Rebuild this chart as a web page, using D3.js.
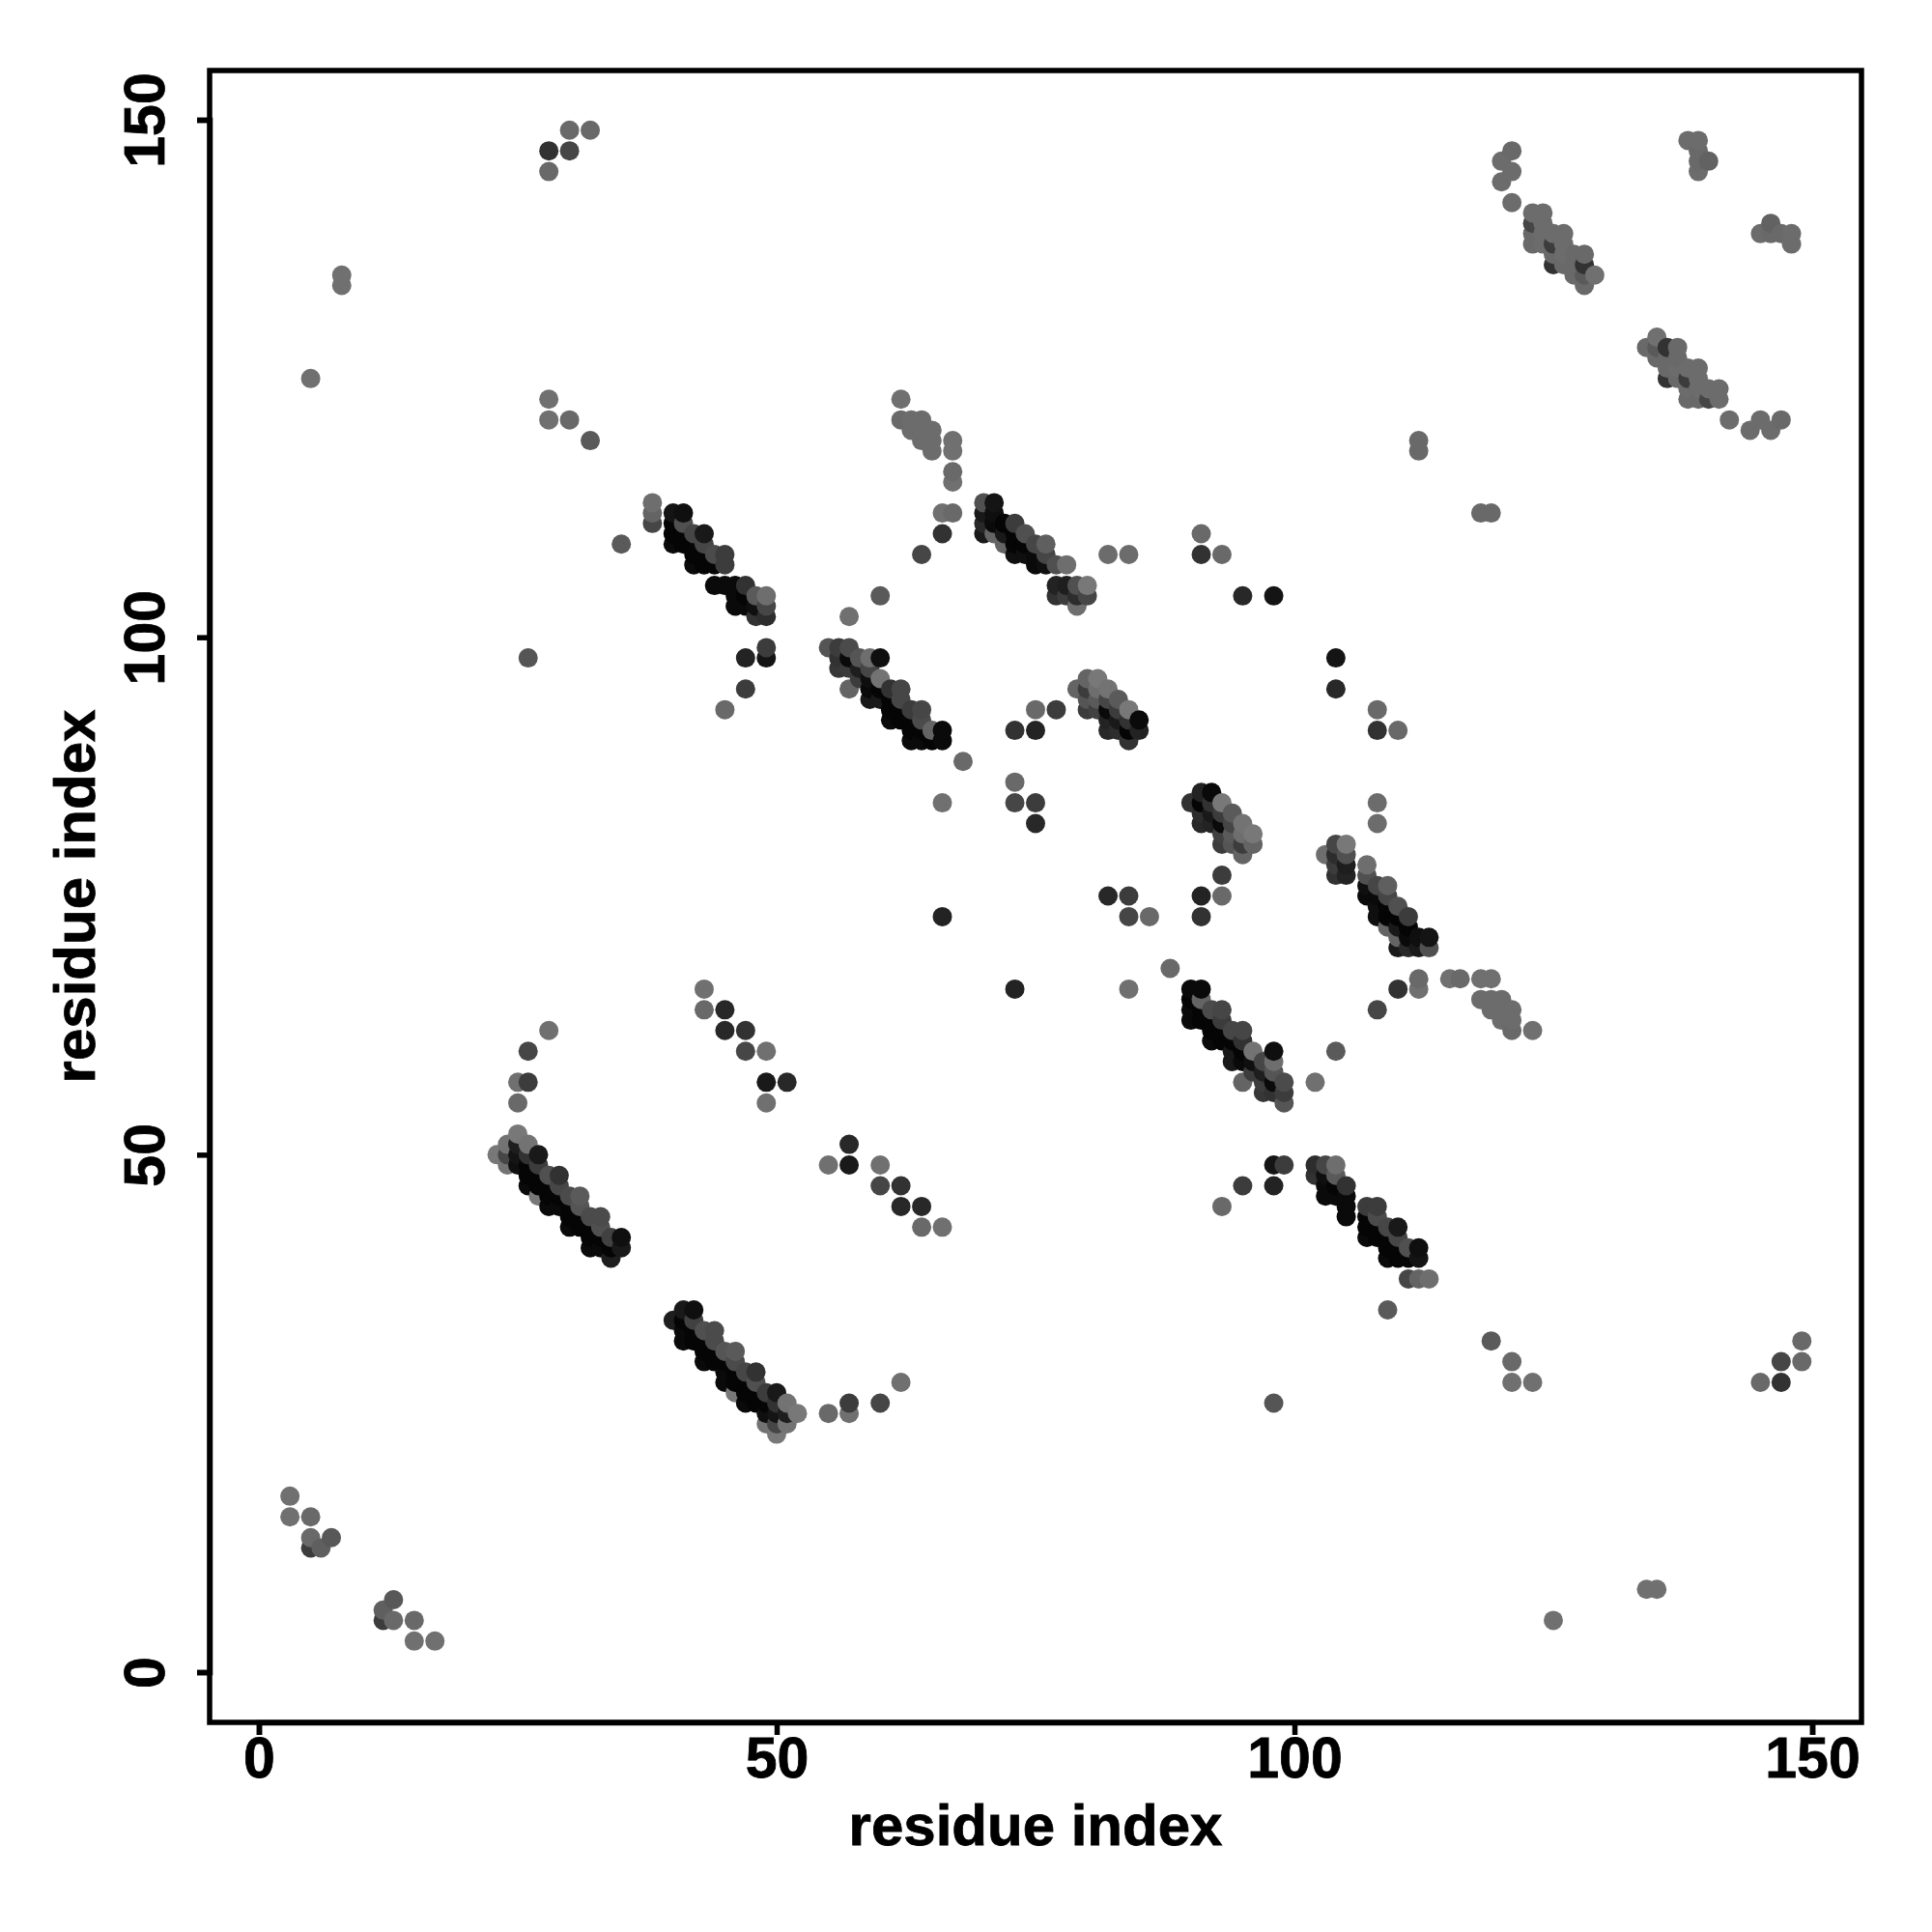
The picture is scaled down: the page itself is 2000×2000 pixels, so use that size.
<!DOCTYPE html>
<html><head><meta charset="utf-8">
<style>html,body{margin:0;padding:0;background:#fff}svg{display:block}</style>
<script src="https://d3js.org/d3.v7.min.js"></script></head><body>
<svg id="c" width="2000" height="2000"></svg>
<script>
const xTicks=[0,50,100,150], yTicks=[0,50,100,150];
const xTitle="residue index", yTitle="residue index";
// contact pairs [residue i, residue j, grey level]; the map shows each pair at (i,j) and (j,i)
const contactsA=[[25,55,105],[25,52,120],[24,51,115],[26,51,115],[23,50,120],[24,49,115],[25,51,30],[25,50,20],[25,49,15],[24,50,70],[26,50,50],[27,50,25],[26,49,5],[26,48,5],[26,47,10],[27,49,60],[27,48,5],[27,47,5],[27,46,120],[28,48,80],[29,48,50],[29,47,70],[28,47,5],[28,46,5],[28,45,10],[30,46,75],[31,46,90],[31,45,85],[30,45,5],[29,46,5],[29,45,10],[30,44,5],[30,43,10],[31,44,5],[31,43,5],[32,44,75],[33,44,75],[33,43,80],[32,43,5],[32,42,5],[32,41,10],[33,42,5],[33,41,10],[34,42,65],[35,42,15],[35,41,25],[34,41,5],[34,40,30]];
const contactsB=[[38,113,110],[38,112,100],[38,111,70],[40,112,20],[41,112,15],[40,111,5],[40,110,5],[40,109,10],[41,111,80],[41,110,5],[41,109,5],[42,110,70],[43,110,25],[43,109,70],[42,109,5],[42,108,5],[42,107,10],[43,108,5],[43,107,5],[44,108,75],[45,108,60],[45,107,60],[44,107,5],[44,105,10],[45,105,10],[46,105,10],[47,105,50],[46,104,10],[46,103,10],[47,104,5],[47,103,10],[48,104,90],[49,104,110],[48,103,15],[49,103,70],[48,102,50],[49,102,45],[49,99,60],[49,98,20],[47,98,35]];
const contactsC=[[70,113,80],[71,113,20],[70,112,25],[71,112,15],[70,111,40],[70,110,25],[71,111,10],[71,110,100],[72,111,5],[72,110,25],[72,109,100],[73,111,60],[73,110,5],[74,110,80],[73,109,5],[73,108,15],[74,109,5],[74,108,15],[75,109,70],[76,109,95],[75,108,10],[76,108,70],[75,107,10],[76,107,15],[77,107,80],[78,107,110],[77,105,35],[78,105,30],[79,105,80],[80,105,120],[77,104,50],[78,104,60],[79,104,45],[80,104,70],[79,103,110]];
const contactsD=[[55,99,85],[56,99,60],[57,99,75],[56,98,50],[56,97,55],[57,98,10],[57,97,60],[58,98,85],[59,98,110],[60,98,15],[58,97,30],[59,97,70],[58,96,60],[57,95,100],[60,96,115],[59,96,15],[59,95,10],[59,94,25],[60,95,5],[60,94,25],[61,95,50],[62,95,70],[61,94,5],[62,94,70],[61,93,5],[61,92,10],[62,93,5],[62,92,5],[63,93,60],[64,93,70],[64,92,75],[63,92,5],[63,91,5],[63,90,10],[64,91,5],[64,90,10],[65,91,100],[66,91,10],[65,90,5],[66,90,10]];
const contactsE=[[79,95,100],[80,96,100],[81,96,120],[80,95,60],[81,95,110],[82,95,115],[80,94,85],[80,93,60],[81,94,90],[81,93,65],[82,94,70],[83,94,90],[82,93,10],[83,93,60],[84,93,120],[85,92,10],[82,92,35],[82,91,40],[83,92,25],[83,91,45],[84,92,50],[84,91,5],[85,91,35],[84,90,50]];
const contactsF=[[123,141,108],[124,141,108],[123,140,70],[123,139,105],[123,138,105],[124,140,108],[124,139,108],[124,138,108],[125,139,108],[126,139,108],[125,138,60],[125,137,105],[125,136,50],[126,138,108],[126,137,108],[126,136,105],[127,137,105],[128,137,105],[127,136,105],[128,136,50],[127,135,105],[128,135,90],[129,135,112],[128,134,105]];
const contactsOther=[[3,17,112],[3,15,112],[5,15,105],[5,13,105],[5,12,60],[6,12,95],[7,13,88],
[28,147,50],[28,145,105],[30,147,70],[30,149,105],[32,149,105],[8,135,112],[8,134,112],[5,125,112],[28,123,112],[28,121,112],[30,121,105],[32,119,90],[35,109,90],[26,98,85],[45,93,105],[47,95,60],
[28,62,112],[26,60,70],[25,57,112],[26,57,60],
[43,66,112],[43,64,105],[45,64,40],[45,62,40],[47,62,50],[47,60,70],[49,60,112],[49,57,25],[51,57,40],[49,55,112],
[62,123,112],[62,121,105],[63,121,108],[64,121,108],[63,120,108],[64,120,108],[65,120,108],[64,119,108],[65,119,108],[65,118,108],[67,119,112],[67,118,112],[67,116,105],[67,115,112],[66,112,112],[67,112,105],[66,110,50],[64,108,70],
[82,108,108],[84,108,108],[91,110,105],[91,108,50],[93,108,105],[95,104,40],[98,104,20],[60,104,90],[57,102,112],[112,119,105],[112,118,105],
[68,88,105],[66,84,112],[73,91,50],[75,93,105],[75,91,35],[77,93,60],[73,86,105],[73,84,70],[75,84,60],[75,82,40],[66,73,35],
[120,146,108],[121,147,105],[121,145,108],[120,144,108],[121,142,108],[138,148,108],[139,148,108],[139,147,105],[139,146,105],[140,146,98],[139,145,108]];

const pairs=[...contactsA,...contactsB,...contactsC,...contactsD,...contactsE,...contactsF,...contactsOther];
const points=[...pairs.map(([i,j,g])=>({x:i,y:j,g})),...pairs.map(([i,j,g])=>({x:j,y:i,g}))]
  .sort((a,b)=>d3.ascending(a.x,b.x)||d3.ascending(a.y,b.y));

const svg=d3.select("#c");
const x=d3.scaleLinear().domain([0,150]).range([268,1876]);
const y=d3.scaleLinear().domain([0,150]).range([1731,124]);
const L=217,R=1927,T=73,B=1783,font="'Liberation Sans',Arial,sans-serif",lw=5.5;

svg.append("g").selectAll("circle").data(points).join("circle")
  .attr("cx",d=>x(d.x)).attr("cy",d=>y(d.y)).attr("r",10)
  .attr("fill",d=>d3.rgb(d.g,d.g,d.g));

svg.append("rect").attr("x",L).attr("y",T).attr("width",R-L).attr("height",B-T)
  .attr("fill","none").attr("stroke","#000").attr("stroke-width",lw);

const gx=svg.append("g").attr("transform",`translate(0,${B})`)
  .call(d3.axisBottom(x).tickValues(xTicks).tickSize(13).tickPadding(2).tickFormat(d3.format("d")));
const gy=svg.append("g").attr("transform",`translate(${L},0)`)
  .call(d3.axisLeft(y).tickValues(yTicks).tickSize(13).tickFormat(d3.format("d")));
for(const g of [gx,gy]){
  g.select(".domain").attr("stroke-width",lw);
  g.selectAll(".tick line").attr("stroke-width",lw);
  g.selectAll("text").attr("font-family",font).attr("font-weight","bold").attr("font-size",59)
    .attr("fill","#000").attr("stroke","#000").attr("stroke-width",0.8);
}
gy.selectAll(".tick text").attr("x",0).attr("y",0).attr("dy",0)
  .attr("text-anchor","middle").attr("transform","translate(-47,0) rotate(-90)");

for(const t of [
  svg.append("text").attr("x",(L+R)/2).attr("y",1910).text(xTitle),
  svg.append("text").attr("transform",`translate(98,${(T+B)/2}) rotate(-90)`).text(yTitle)
]) t.attr("text-anchor","middle").attr("font-family",font).attr("font-weight","bold")
    .attr("font-size",60).attr("stroke","#000").attr("stroke-width",0.8);
</script></body></html>
